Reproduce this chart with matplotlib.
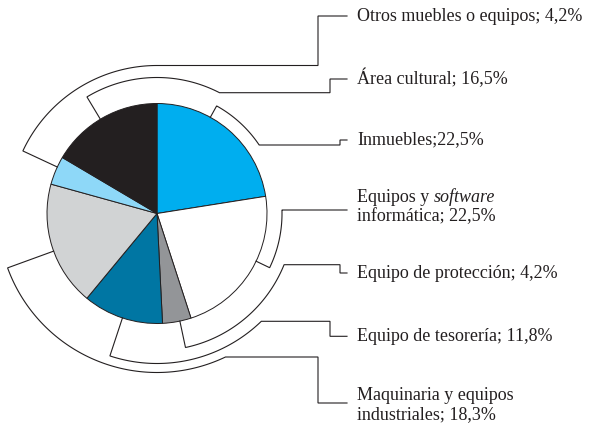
import numpy as np
import matplotlib.pyplot as plt

W, H = 589, 426

# --- datos ---
categorias = ["Inmuebles", "Equipos y software informática", "Equipo de protección",
              "Equipo de tesorería", "Maquinaria y equipos industriales",
              "Otros muebles o equipos", "Área cultural"]
porcentajes = [22.5, 22.5, 4.2, 11.8, 18.3, 4.2, 16.5]
colores = ["#00AEEF", "#FFFFFF", "#939598", "#0076A3", "#D1D3D4", "#8ED8F8", "#231F20"]

# --- diseño de las llaves (px, y hacia abajo) ---
cx, cy, r_pie = 157, 213.5, 110
ang_marca = [29, 115.7, 168, 198.3, 250, -65, -31]
radio_arco = [123, 125, 137, 150, 159, 148, 136]
y_linea = [145, 210, 264.7, 321.3, 357, 65.5, 92.7]
x_escalon = [340, 347, 340, 330, 318, 318, 330]
y_final = [140, 210, 273, 336.3, 403, 16, 79]
y_texto = [140, 207, 274, 336.5, 405, 16.5, 78.5]
x_fin, x_texto = 347, 357

fuente = "Liberation Serif"
tam = 13
col_linea = "#231F20"


def pct(v):
    return f"{v:.1f}".replace(".", ",") + "%"


def punto(r, phi):
    phi = np.radians(phi)
    return cx + r * np.sin(phi), (H - cy) + r * np.cos(phi)


fig = plt.figure(figsize=(W / 100, H / 100), dpi=100)
ax = fig.add_axes([0, 0, 1, 1])

ax.pie(porcentajes, colors=colores, startangle=90, counterclock=False,
       radius=r_pie, center=(cx, H - cy),
       wedgeprops=dict(edgecolor=col_linea, linewidth=0.7))

ax.set_xlim(0, W)
ax.set_ylim(0, H)
ax.set_aspect("equal")
ax.axis("off")

# --- llaves y líneas guía ---
for i in range(len(categorias)):
    R = radio_arco[i]
    phi_fin = np.degrees(np.arccos((cy - y_linea[i]) / R))
    arco = np.linspace(ang_marca[i], phi_fin, 120)
    xs, ys = [], []
    x0, y0 = punto(r_pie, ang_marca[i])
    xs.append(x0); ys.append(y0)
    for a in arco:
        x, y = punto(R, a)
        xs.append(x); ys.append(y)
    xs += [x_escalon[i], x_escalon[i], x_fin]
    ys += [H - y_linea[i], H - y_final[i], H - y_final[i]]
    ax.plot(xs, ys, color=col_linea, linewidth=0.8, solid_joinstyle="miter")

# --- textos ---
txt = dict(fontfamily=fuente, fontsize=tam, color="#231F20", va="center", ha="left")
ax.text(x_texto, H - y_texto[0], "Inmuebles;" + pct(porcentajes[0]), **txt)

t1 = ax.text(x_texto, H - (y_texto[1] - 9.5), "Equipos y ", **txt)
ax.annotate("software", xy=(1, 0), xycoords=t1, va="bottom", ha="left",
            fontfamily=fuente, fontsize=tam, fontstyle="italic", color="#231F20")
ax.text(x_texto, H - (y_texto[1] + 9.5), "informática; " + pct(porcentajes[1]), **txt)

for i in (2, 3, 5, 6):
    ax.text(x_texto, H - y_texto[i], categorias[i] + "; " + pct(porcentajes[i]), **txt)

ax.text(x_texto, H - (y_texto[4] - 10), "Maquinaria y equipos", **txt)
ax.text(x_texto, H - (y_texto[4] + 10), "industriales; " + pct(porcentajes[4]), **txt)

fig.savefig("out.png", dpi=100)
